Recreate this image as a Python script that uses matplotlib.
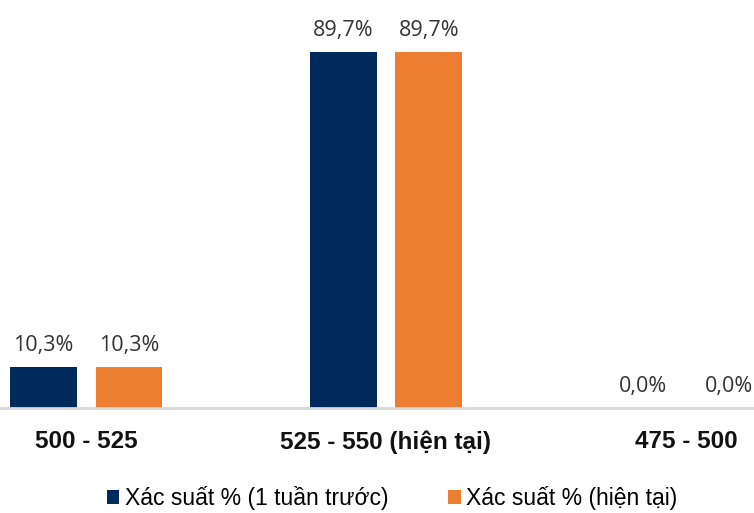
import matplotlib

matplotlib.use("Agg")

import matplotlib.pyplot as plt
import numpy as np

categories = ["500 - 525", "525 - 550 (hiện tại)", "475 - 500"]
week_ago = [10.3, 89.7, 0.0]
current = [10.3, 89.7, 0.0]
series_names = ["Xác suất % (1 tuần trước)", "Xác suất % (hiện tại)"]

NAVY = "#002A5C"
ORANGE = "#ED7D31"

plt.rcParams["font.family"] = ["Liberation Sans", "DejaVu Sans"]

fig = plt.figure(figsize=(7.54, 5.13), dpi=100)
ax = fig.add_axes([0, (513 - 408) / 513, 1, 408 / 513])

x = np.arange(len(categories))
width = 0.223
offset = 0.143

bars_a = ax.bar(x - offset, week_ago, width=width, color=NAVY, label=series_names[0])
bars_b = ax.bar(x + offset, current, width=width, color=ORANGE, label=series_names[1])

for bars in (bars_a, bars_b):
    for rect in bars:
        h = rect.get_height()
        ax.annotate(f"{h:.1f}".replace(".", ",") + "%",
                    (rect.get_x() + rect.get_width() / 2, h),
                    xytext=(0, 8), textcoords="offset points",
                    ha="center", va="bottom", fontsize=15.5, color="#333333",
                    family=["Open Sans", "DejaVu Sans"])

ax.set_xlim(-0.287, 2.227)
ax.set_ylim(0, 102.8)
ax.set_yticks([])
ax.set_xticks(x)
ax.set_xticklabels(categories, fontsize=17.5, fontweight="bold", color="#111111",
                   family=["Liberation Sans Narrow", "Liberation Sans"])
ax.tick_params(axis="x", length=0, pad=16)
for side in ("top", "left", "right"):
    ax.spines[side].set_visible(False)
ax.spines["bottom"].set_color("#D9D9D9")
ax.spines["bottom"].set_linewidth(2)

fig.legend(loc="lower center", bbox_to_anchor=(0.52, -0.035), ncol=2, frameon=False,
           fontsize=16.5, handlelength=0.55, handleheight=0.55, handletextpad=0.25,
           columnspacing=2.6)

fig.savefig("out.png", dpi=100)
